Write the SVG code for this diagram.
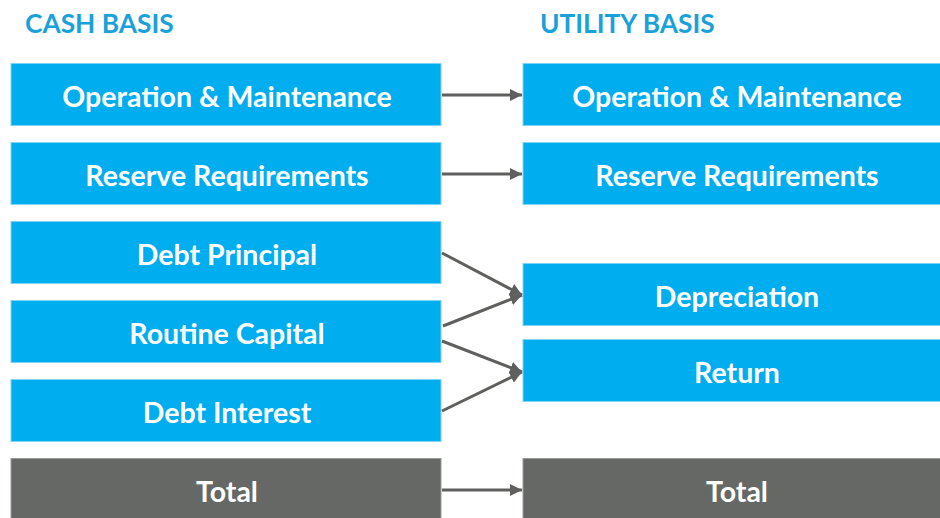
<svg xmlns="http://www.w3.org/2000/svg" width="940" height="518" viewBox="0 0 940 518">
<defs>
<style>
.b{fill:#00ADEF;stroke:#7FD3F3;stroke-width:1}
.g{fill:#666865;stroke:#9a9b99;stroke-width:1}
.t{font-family:Lato,"Open Sans",sans-serif;font-weight:bold;font-size:28.5px;fill:#fff;text-anchor:middle}
.h{font-family:Lato,"Open Sans",sans-serif;font-weight:bold;font-size:26.3px;fill:#1BA1DA}
.c{stroke:#5f605e;stroke-width:3;fill:none;marker-end:url(#a)}
</style>
<marker id="a" viewBox="0 0 10 10" refX="10" refY="5" markerWidth="4" markerHeight="4" orient="auto" markerUnits="strokeWidth">
<path d="M0,0 L10,5 L0,10 z" fill="#5f605e"/>
</marker>
</defs>
<rect width="940" height="518" fill="#fff"/>
<text class="h" x="25" y="33">CASH BASIS</text>
<text class="h" x="540" y="33">UTILITY BASIS</text>
<g id="l1"><rect class="b" x="11" y="63.5" width="430" height="62"/><text class="t" x="227" y="106.5">Operation &amp; Maintenance</text></g>
<g id="l2"><rect class="b" x="11" y="142.5" width="430" height="62"/><text class="t" x="227" y="185.5">Reserve Requirements</text></g>
<g id="l3"><rect class="b" x="11" y="221.5" width="430" height="62"/><text class="t" x="227" y="264.5">Debt Principal</text></g>
<g id="l4"><rect class="b" x="11" y="300.5" width="430" height="62"/><text class="t" x="227" y="343.5">Routine Capital</text></g>
<g id="l5"><rect class="b" x="11" y="379.5" width="430" height="62"/><text class="t" x="227" y="422.5">Debt Interest</text></g>
<g id="l6"><rect class="g" x="11" y="458.5" width="430" height="62"/><text class="t" x="227" y="501.5">Total</text></g>
<g id="r1"><rect class="b" x="523" y="63.5" width="430" height="62"/><text class="t" x="737" y="106.5">Operation &amp; Maintenance</text></g>
<g id="r2"><rect class="b" x="523" y="142.5" width="430" height="62"/><text class="t" x="737" y="185.5">Reserve Requirements</text></g>
<g id="r3"><rect class="b" x="523" y="263.5" width="430" height="62"/><text class="t" x="737" y="306.5">Depreciation</text></g>
<g id="r4"><rect class="b" x="523" y="339.5" width="430" height="62"/><text class="t" x="737" y="382.5">Return</text></g>
<g id="r5"><rect class="g" x="523" y="458.5" width="430" height="62"/><text class="t" x="737" y="501.5">Total</text></g>
<g id="connectors">
<line class="c" x1="442" y1="95" x2="522" y2="95"/>
<line class="c" x1="442" y1="174" x2="522" y2="174"/>
<line class="c" x1="442" y1="253" x2="522" y2="295"/>
<line class="c" x1="443" y1="326" x2="522" y2="295"/>
<line class="c" x1="442" y1="341" x2="522" y2="372"/>
<line class="c" x1="442" y1="411" x2="522" y2="372"/>
<line class="c" x1="442" y1="490" x2="522" y2="490"/>
</g>
</svg>
